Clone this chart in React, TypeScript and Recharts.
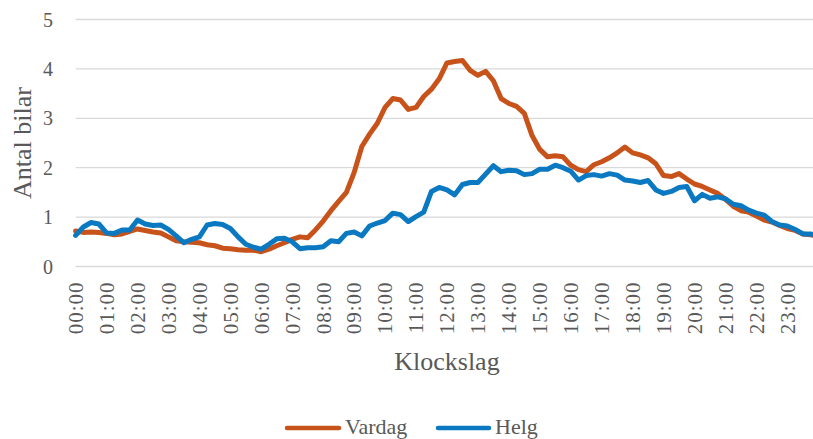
import React from 'react';
import { LineChart, Line, XAxis, YAxis, CartesianGrid, Label } from 'recharts';

// x-axis: one tick per hour, data every 15 minutes (00:00 .. 24:00)
const hourLabels = [
  '00:00', '01:00', '02:00', '03:00', '04:00', '05:00', '06:00', '07:00',
  '08:00', '09:00', '10:00', '11:00', '12:00', '13:00', '14:00', '15:00',
  '16:00', '17:00', '18:00', '19:00', '20:00', '21:00', '22:00', '23:00',
];
const hourTicks = hourLabels.map((_, i) => i * 60);
const yTicks = [0, 1, 2, 3, 4, 5];

// Vardag (weekday), one value per 15 min
const vardag = [
  0.72, 0.69, 0.70, 0.69, 0.67, 0.64, 0.66, 0.71, // 00-02
  0.76, 0.73, 0.70, 0.68, 0.60, 0.52, 0.50, 0.49, // 02-04
  0.48, 0.44, 0.42, 0.37, 0.36, 0.34, 0.33, 0.33, // 04-06
  0.30, 0.35, 0.42, 0.48, 0.55, 0.60, 0.58, 0.74, // 06-08
  0.92, 1.13, 1.32, 1.50, 1.90, 2.43, 2.68, 2.90, // 08-10
  3.22, 3.40, 3.37, 3.18, 3.22, 3.44, 3.59, 3.80, // 10-12
  4.12, 4.15, 4.17, 3.97, 3.87, 3.95, 3.76, 3.40, // 12-14
  3.30, 3.24, 3.10, 2.65, 2.37, 2.22, 2.24, 2.22, // 14-16
  2.05, 1.96, 1.92, 2.06, 2.12, 2.20, 2.30, 2.42, // 16-18
  2.30, 2.26, 2.20, 2.08, 1.84, 1.82, 1.88, 1.77, // 18-20
  1.67, 1.62, 1.55, 1.48, 1.36, 1.22, 1.13, 1.10, // 20-22
  1.02, 0.94, 0.90, 0.83, 0.77, 0.73, 0.66, 0.64, // 22-24
  0.62,
];

// Helg (weekend), one value per 15 min
const helg = [
  0.63, 0.80, 0.89, 0.86, 0.68, 0.67, 0.74, 0.74,
  0.94, 0.86, 0.83, 0.84, 0.75, 0.62, 0.48, 0.55,
  0.60, 0.84, 0.87, 0.85, 0.77, 0.60, 0.45, 0.39,
  0.35, 0.45, 0.56, 0.57, 0.50, 0.36, 0.38, 0.38,
  0.40, 0.52, 0.50, 0.67, 0.70, 0.62, 0.82, 0.88,
  0.93, 1.08, 1.05, 0.91, 1.01, 1.10, 1.52, 1.60,
  1.55, 1.45, 1.66, 1.70, 1.70, 1.87, 2.04, 1.92,
  1.95, 1.94, 1.86, 1.88, 1.97, 1.97, 2.05, 2.00,
  1.93, 1.75, 1.84, 1.86, 1.83, 1.88, 1.85, 1.75,
  1.73, 1.70, 1.74, 1.55, 1.48, 1.52, 1.60, 1.62,
  1.33, 1.46, 1.38, 1.41, 1.37, 1.26, 1.23, 1.14,
  1.08, 1.04, 0.91, 0.84, 0.82, 0.75, 0.66, 0.66,
  0.60,
];

const data = vardag.map((v, i) => ({ min: i * 15, vardag: v, helg: helg[i] }));

const FONT = '"Liberation Serif", "Times New Roman", serif';
const TEXT = '#595959';
const ORANGE = '#C8531A';
const BLUE = '#0A79C1';

const XTick = (props: any) => {
  const { x, y, payload } = props;
  return (
    <text
      x={x}
      y={y}
      transform={`rotate(-90, ${x}, ${y})`}
      textAnchor="end"
      dy="0.35em"
      fontSize={21}
      letterSpacing={1}
      fill={TEXT}
      fontFamily={FONT}
    >
      {hourLabels[payload.value / 60]}
    </text>
  );
};

export default function App() {
  return (
    <div style={{ position: 'absolute', left: 0, top: 0, width: 813, height: 439, overflow: 'hidden', background: '#fff' }}>
      <LineChart
        width={830}
        height={439}
        data={data}
        margin={{ top: 19.5, right: 11.7, left: 0, bottom: 72.5 }}
      >
        <CartesianGrid vertical={false} stroke="#D9D9D9" strokeWidth={1.3} />
        <XAxis
          dataKey="min"
          type="number"
          domain={[0, 1440]}
          ticks={hourTicks}
          interval={0}
          axisLine={false}
          tickLine={false}
          tickSize={0}
          tickMargin={15}
          height={100}
          tick={<XTick />}
        >
          <Label
            content={({ viewBox }: any) => (
              <text
                x={viewBox.x + viewBox.width / 2}
                y={370}
                textAnchor="middle"
                fontSize={26}
                fill={TEXT}
                fontFamily={FONT}
              >
                Klockslag
              </text>
            )}
          />
        </XAxis>
        <YAxis
          domain={[0, 5]}
          ticks={yTicks}
          interval={0}
          width={75.6}
          axisLine={false}
          tickLine={false}
          tickSize={0}
          tickMargin={22.6}
          tick={{ fontSize: 20, fill: TEXT, fontFamily: FONT }}
        >
          <Label
            content={({ viewBox }: any) => {
              const cy = viewBox.y + viewBox.height / 2;
              return (
                <text
                  x={22}
                  y={cy}
                  transform={`rotate(-90, 22, ${cy})`}
                  textAnchor="middle"
                  dy="0.35em"
                  fontSize={26}
                  fill={TEXT}
                  fontFamily={FONT}
                >
                  Antal bilar
                </text>
              );
            }}
          />
        </YAxis>
        <Line
          dataKey="vardag"
          stroke={ORANGE}
          strokeWidth={5}
          strokeLinejoin="round"
          strokeLinecap="round"
          dot={false}
          activeDot={false}
          isAnimationActive={false}
        />
        <Line
          dataKey="helg"
          stroke={BLUE}
          strokeWidth={5}
          strokeLinejoin="round"
          strokeLinecap="round"
          dot={false}
          activeDot={false}
          isAnimationActive={false}
        />
      </LineChart>
      <svg width={813} height={34} style={{ position: 'absolute', left: 0, top: 405 }}>
        <line x1={287} y1={23} x2={339} y2={23} stroke={ORANGE} strokeWidth={4.5} strokeLinecap="round" />
        <text x={345} y={29} fontSize={22} fill={TEXT} fontFamily={FONT}>Vardag</text>
        <line x1={438} y1={23} x2={489} y2={23} stroke={BLUE} strokeWidth={4.5} strokeLinecap="round" />
        <text x={495} y={29} fontSize={22} fill={TEXT} fontFamily={FONT}>Helg</text>
      </svg>
    </div>
  );
}
